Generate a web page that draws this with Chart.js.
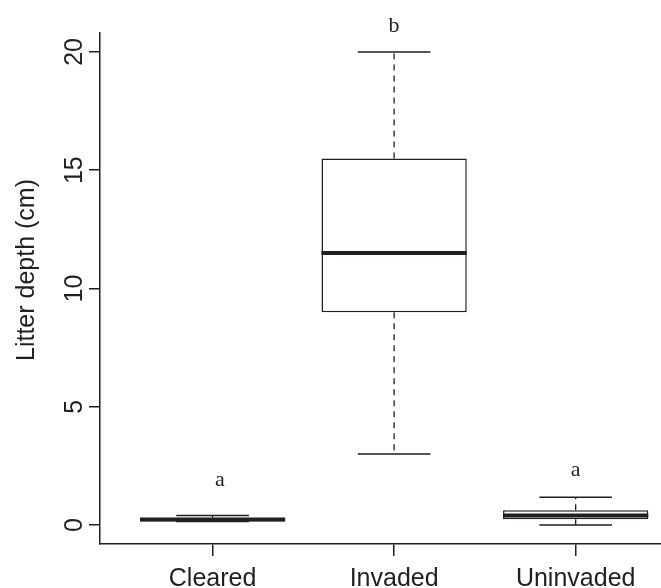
<!DOCTYPE html>
<html>
<head>
<meta charset="utf-8">
<script src="https://cdn.jsdelivr.net/npm/chart.js@4"></script>
<style>
  html, body { margin: 0; padding: 0; background: #fff; }
  #wrap { width: 661px; height: 588px; }
</style>
</head>
<body>
<div id="wrap"><canvas id="c" width="661" height="588"></canvas></div>
<script>
// ---- data ----
const categories   = ['Cleared', 'Invaded', 'Uninvaded'];
const whiskerLow   = [0.15, 3.0, 0.0];
const q1           = [0.15, 9.0, 0.25];
const median       = [0.24, 11.5, 0.40];
const q3           = [0.30, 15.5, 0.63];
const whiskerHigh  = [0.40, 20.0, 1.18];
const letters      = ['a', 'b', 'a'];
const letterX      = [1.04, 2.0, 3.0];
const letterY      = [1.65, 20.85, 2.07];
const yTicks       = [0, 5, 10, 15, 20];
const yTitle       = 'Litter depth (cm)';

const INK = '#231f20';
const SANS = '"Liberation Sans", Arial, Helvetica, sans-serif';
const SERIF = '"Liberation Serif", "Times New Roman", serif';

const boxPlugin = {
  id: 'boxParts',
  afterDatasetsDraw(chart) {
    const {ctx, scales: {x, y}} = chart;
    const unit = x.getPixelForValue(2) - x.getPixelForValue(1);
    const capHalf = unit * 0.2;
    ctx.save();
    ctx.strokeStyle = INK;
    for (let i = 0; i < categories.length; i++) {
      const cx = x.getPixelForValue(i + 1);
      // whiskers (dashed)
      ctx.lineWidth = 1.3;
      ctx.setLineDash([6, 5]);
      ctx.beginPath();
      ctx.moveTo(cx, y.getPixelForValue(q3[i]));
      ctx.lineTo(cx, y.getPixelForValue(whiskerHigh[i]));
      ctx.moveTo(cx, y.getPixelForValue(q1[i]));
      ctx.lineTo(cx, y.getPixelForValue(whiskerLow[i]));
      ctx.stroke();
      ctx.setLineDash([]);
      // caps
      ctx.lineWidth = 1.5;
      ctx.beginPath();
      const yh = y.getPixelForValue(whiskerHigh[i]);
      const yl = y.getPixelForValue(whiskerLow[i]);
      ctx.moveTo(cx - capHalf, yh); ctx.lineTo(cx + capHalf, yh);
      ctx.moveTo(cx - capHalf, yl); ctx.lineTo(cx + capHalf, yl);
      ctx.stroke();
      // median
      const meta = chart.getDatasetMeta(0).data[i];
      const half = meta.width / 2;
      ctx.lineWidth = 4;
      ctx.beginPath();
      const ym = y.getPixelForValue(median[i]);
      ctx.moveTo(cx - half, ym); ctx.lineTo(cx + half, ym);
      ctx.stroke();
    }
    // letters
    ctx.fillStyle = INK;
    ctx.font = '22px ' + SERIF;
    ctx.textAlign = 'center';
    ctx.textBaseline = 'alphabetic';
    for (let i = 0; i < letters.length; i++) {
      ctx.fillText(letters[i], x.getPixelForValue(letterX[i]), y.getPixelForValue(letterY[i]));
    }
    // y title
    ctx.font = '25px ' + SANS;
    ctx.translate(27, 270);
    ctx.rotate(-Math.PI / 2);
    ctx.textBaseline = 'middle';
    ctx.fillText(yTitle, 0, 0);
    ctx.restore();
  }
};

new Chart(document.getElementById('c'), {
  type: 'bar',
  data: {
    datasets: [{
      data: categories.map((c, i) => ({x: i + 1, y: [q1[i], q3[i]]})),
      backgroundColor: '#ffffff',
      borderColor: INK,
      borderWidth: 1.5,
      borderSkipped: false,
      barPercentage: 0.8,
      categoryPercentage: 1.0
    }]
  },
  options: {
    responsive: false,
    animation: false,
    events: [],
    layout: { padding: { top: 33, right: 0, bottom: 0, left: 0 } },
    plugins: { legend: { display: false }, tooltip: { enabled: false } },
    scales: {
      x: {
        type: 'linear',
        min: 0.38,
        max: 3.47,
        offset: false,
        afterBuildTicks: s => { s.ticks = categories.map((c, i) => ({value: i + 1})); },
        afterFit: s => { s.height = 44; },
        ticks: {
          callback: v => categories[v - 1],
          font: { family: SANS, size: 25 },
          color: INK,
          padding: 8,
          maxRotation: 0,
          autoSkip: false
        },
        grid: { offset: false, drawOnChartArea: false, drawTicks: true, tickLength: 12, color: INK, lineWidth: 1.5 },
        border: { display: true, color: INK, width: 1.5 }
      },
      y: {
        min: -0.8,
        max: 20.8,
        afterBuildTicks: s => { s.ticks = yTicks.map(v => ({value: v})); },
        afterFit: s => { s.width = 100; },
        ticks: {
          font: { family: SANS, size: 25 },
          color: INK,
          minRotation: 90,
          maxRotation: 90,
          crossAlign: 'center',
          padding: 0
        },
        grid: { drawOnChartArea: false, drawTicks: true, tickLength: 11, color: INK, lineWidth: 1.5 },
        border: { display: true, color: INK, width: 1.5 }
      }
    }
  },
  plugins: [boxPlugin]
});
</script>
</body>
</html>
